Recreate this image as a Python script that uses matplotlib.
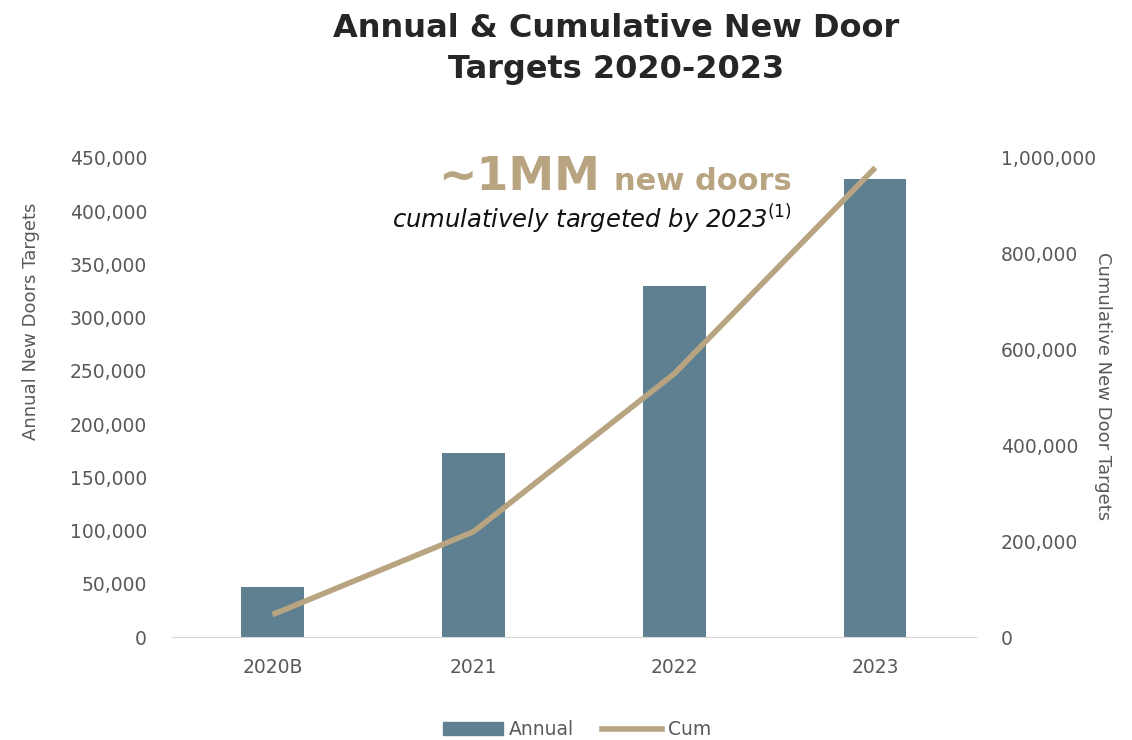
import numpy as np
import matplotlib
matplotlib.use("Agg")
import matplotlib.pyplot as plt
from matplotlib.ticker import FuncFormatter, MultipleLocator
from matplotlib.patches import Patch
from matplotlib.lines import Line2D

categories = ["2020B", "2021", "2022", "2023"]
annual = [47000, 173000, 330000, 430000]
cumulative = [47000, 220000, 550000, 980000]

BAR = "#5F8090"
GOLD = "#B8A480"
GREY = "#595959"

plt.rcParams["font.family"] = "DejaVu Sans"

fig = plt.figure(figsize=(11.32, 7.4), dpi=100)
ax = fig.add_axes([0.152, 0.139, 0.710, 0.6475])
ax2 = ax.twinx()

x = np.arange(len(categories))
ax.bar(x, annual, 0.31, color=BAR, zorder=2)
ax2.plot(x, cumulative, color=GOLD, lw=4, solid_capstyle="butt", zorder=3)

ax.set_xlim(-0.5, 3.5)
ax.set_ylim(0, 450000)
ax2.set_ylim(0, 1000000)
ax.yaxis.set_major_locator(MultipleLocator(50000))
ax2.yaxis.set_major_locator(MultipleLocator(200000))
fmt = FuncFormatter(lambda v, p: f"{int(v):,}")
ax.yaxis.set_major_formatter(fmt)
ax2.yaxis.set_major_formatter(fmt)

ax.set_xticks(x)
ax.set_xticklabels(categories)
for a in (ax, ax2):
    for s in ("top", "right", "left"):
        a.spines[s].set_visible(False)
    a.tick_params(length=0, labelsize=13.5, labelcolor=GREY)
ax2.spines["bottom"].set_visible(False)
ax.spines["bottom"].set_color("#D9D9D9")
ax.tick_params(axis="y", pad=18)
ax.tick_params(axis="x", pad=15)
ax2.tick_params(axis="y", pad=18)

ax.set_ylabel("Annual New Doors Targets", fontsize=13, color=GREY)
ax2.set_ylabel("Cumulative New Door Targets", fontsize=13, color=GREY,
               rotation=270)
ax.yaxis.set_label_coords(-0.164, 0.66)
ax2.yaxis.set_label_coords(1.17, 0.524)

fig.text(0.544, 0.982, "Annual & Cumulative New Door\nTargets 2020-2023",
         ha="center", va="top", fontsize=23, fontweight="bold", color="#262626",
         linespacing=1.42)

nd = fig.text(0.699, 0.743, "new doors", ha="right", va="baseline", fontsize=22,
              fontweight="bold", color=GOLD)
fig.canvas.draw()
bb = nd.get_window_extent(renderer=fig.canvas.get_renderer())
fig.text((bb.x0 - 14) / fig.bbox.width, 0.743, "~1MM", ha="right", va="baseline",
         fontsize=33, fontweight="bold", color=GOLD)
fig.text(0.699, 0.692, r"cumulatively targeted by 2023$^{(1)}$", ha="right",
         va="baseline", fontsize=17.5, style="italic", color="#111111")

handles = [Patch(color=BAR, label="Annual"),
           Line2D([0], [0], color=GOLD, lw=4, label="Cum")]
fig.legend(handles=handles, loc="lower center", bbox_to_anchor=(0.51, -0.022),
           ncol=2, frameon=False, fontsize=13.5, labelcolor=GREY,
           handlelength=3.2, handletextpad=0.3, columnspacing=1.5)

fig.savefig("out.png", dpi=100)
